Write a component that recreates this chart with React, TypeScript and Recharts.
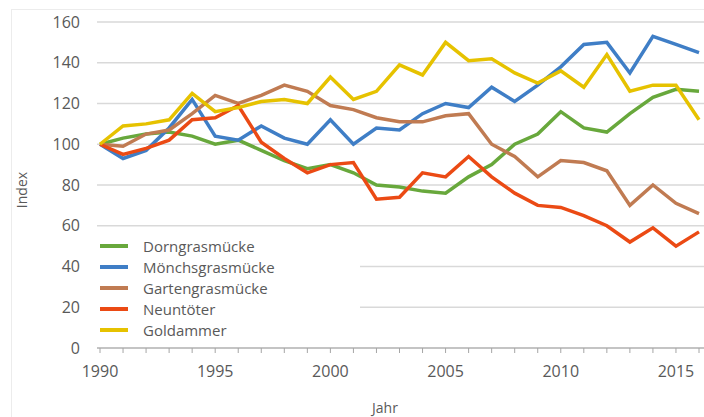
import { LineChart, Line, XAxis, YAxis, CartesianGrid } from 'recharts';

const years = [
  1990, 1991, 1992, 1993, 1994, 1995, 1996, 1997, 1998, 1999, 2000, 2001, 2002,
  2003, 2004, 2005, 2006, 2007, 2008, 2009, 2010, 2011, 2012, 2013, 2014, 2015, 2016,
];

const dorngrasmuecke = [
  100, 103, 105, 106, 104, 100, 102, 97, 92, 88, 90, 86, 80,
  79, 77, 76, 84, 90, 100, 105, 116, 108, 106, 115, 123, 127, 126,
];
const moenchsgrasmuecke = [
  100, 93, 97, 108, 122, 104, 102, 109, 103, 100, 112, 100, 108,
  107, 115, 120, 118, 128, 121, 129, 138, 149, 150, 135, 153, 149, 145,
];
const gartengrasmuecke = [
  100, 99, 105, 107, 115, 124, 120, 124, 129, 126, 119, 117, 113,
  111, 111, 114, 115, 100, 94, 84, 92, 91, 87, 70, 80, 71, 66,
];
const neuntoeter = [
  100, 95, 98, 102, 112, 113, 119, 101, 93, 86, 90, 91, 73,
  74, 86, 84, 94, 84, 76, 70, 69, 65, 60, 52, 59, 50, 57,
];
const goldammer = [
  100, 109, 110, 112, 125, 116, 118, 121, 122, 120, 133, 122, 126,
  139, 134, 150, 141, 142, 135, 130, 136, 128, 144, 126, 129, 129, 112,
];

const yTicks = [0, 20, 40, 60, 80, 100, 120, 140, 160];

const series = [
  { key: 'dorn', name: 'Dorngrasmücke', color: '#68a83c', values: dorngrasmuecke },
  { key: 'moench', name: 'Mönchsgrasmücke', color: '#3f7ec6', values: moenchsgrasmuecke },
  { key: 'garten', name: 'Gartengrasmücke', color: '#c07b52', values: gartengrasmuecke },
  { key: 'neun', name: 'Neuntöter', color: '#eb4a14', values: neuntoeter },
  { key: 'gold', name: 'Goldammer', color: '#e6c200', values: goldammer },
];

const data = years.map((year, i) => {
  const row: Record<string, number> = { year };
  series.forEach((s) => {
    row[s.key] = s.values[i];
  });
  return row;
});

const font = '"Open Sans", "Noto Sans", sans-serif';
const textColor = '#595959';

export default function App() {
  return (
    <div
      style={{
        position: 'absolute',
        left: 0,
        top: 0,
        width: 704,
        height: 417,
        overflow: 'hidden',
        background: '#fff',
        fontFamily: font,
      }}
    >
      <div
        style={{
          position: 'absolute',
          left: 11,
          top: 9,
          width: 720,
          height: 430,
          border: '1px solid #ececec',
        }}
      />
      <LineChart
        width={704}
        height={417}
        data={data}
        margin={{ top: 22, right: 0, bottom: 0, left: 0 }}
        style={{ position: 'absolute', left: 0, top: 0 }}
      >
        <CartesianGrid vertical={false} stroke="#d9d9d9" strokeWidth={1.5} />
        <XAxis
          dataKey="year"
          type="number"
          domain={[1990, 2016]}
          ticks={years}
          interval={0}
          tickFormatter={(v: number) => (v % 5 === 0 ? String(v) : '')}
          padding={{ left: 3, right: 5 }}
          height={69}
          stroke="#a6a6a6"
          tickSize={5}
          tickMargin={13}
          tick={{ fontSize: 16, fill: textColor, fontFamily: font }}
          label={{
            content: () => (
              <text x={385} y={413} textAnchor="middle" fontSize={14} fill={textColor} fontFamily={font}>
                Jahr
              </text>
            ),
          }}
        />
        <YAxis
          domain={[0, 160]}
          ticks={yTicks}
          width={97}
          axisLine={false}
          tickLine={false}
          tickSize={0}
          tickMargin={17}
          tick={{ fontSize: 16, fill: textColor, fontFamily: font }}
          label={{
            content: () => (
              <text
                x={27}
                y={190}
                transform="rotate(-90 27 190)"
                textAnchor="middle"
                fontSize={14}
                fill={textColor}
                fontFamily={font}
              >
                Index
              </text>
            ),
          }}
        />
        {series.map((s) => (
          <Line
            key={s.key}
            type="linear"
            dataKey={s.key}
            name={s.name}
            stroke={s.color}
            strokeWidth={3.5}
            dot={false}
            activeDot={false}
            isAnimationActive={false}
          />
        ))}
      </LineChart>
      <div
        style={{
          position: 'absolute',
          left: 95,
          top: 234,
          width: 265,
          height: 106,
          background: '#fff',
        }}
      >
        {series.map((s, i) => (
          <div
            key={s.key}
            style={{
              position: 'absolute',
              left: 5,
              top: 1 + i * 21,
              height: 21,
              display: 'flex',
              alignItems: 'center',
              whiteSpace: 'nowrap',
            }}
          >
            <span
              style={{
                display: 'inline-block',
                width: 28,
                height: 4,
                background: s.color,
                marginRight: 15,
              }}
            />
            <span style={{ fontSize: 15, color: textColor }}>{s.name}</span>
          </div>
        ))}
      </div>
    </div>
  );
}
